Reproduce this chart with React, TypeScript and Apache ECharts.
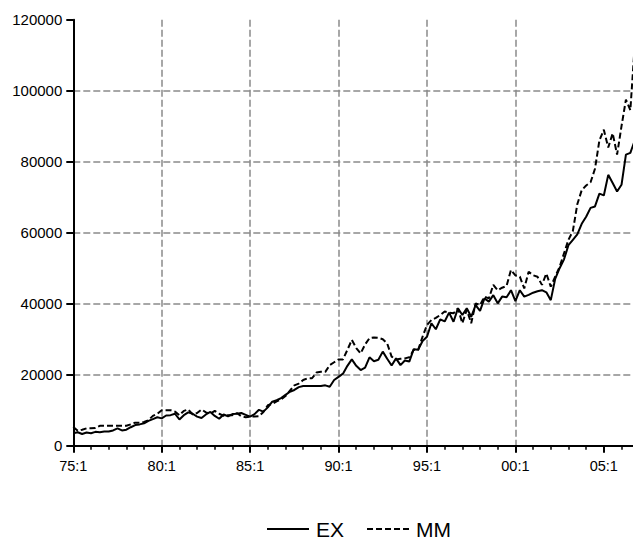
import React, { useEffect, useRef } from 'react';
import * as echarts from 'echarts';

// Quarterly observations, 1975:1 onward (index 0 = 75:1)
const periodLabels = ['75:1', '80:1', '85:1', '90:1', '95:1', '00:1', '05:1'];

const exValues = [
  3500, 3800, 3300, 3700,
  3500, 3900, 3800, 4000,
  4000, 4300, 4900, 4300,
  4500, 5200, 5800, 6000,
  6300, 7000, 7500, 8000,
  7700, 8500, 8600, 9000,
  7400, 8600, 9400, 9000,
  8200, 7800, 8800, 9500,
  8400, 7600, 8800, 8300,
  8900, 9000, 9200, 8700,
  8200, 8900, 10100, 9600,
  10800, 12400, 12800, 13400,
  14300, 15200, 15700, 16500,
  16800, 16800, 16800, 16800,
  16800, 17000, 16600, 18500,
  19400, 20300, 22500, 24300,
  22500, 21300, 22000, 24900,
  23800, 24200, 26500, 24500,
  22600, 24600, 22700, 24000,
  23700, 27200, 27000, 29500,
  30700, 34500, 32800, 35600,
  35000, 37500, 34900, 38700,
  36800, 38700, 36300, 39600,
  38000, 41500, 40600, 42400,
  40100, 42000, 41800, 43800,
  40700, 43800, 42000, 42500,
  43100, 43500, 43800, 43200,
  41000, 47000, 50000, 52500,
  56500, 58000, 59500, 62500,
  64500, 67000, 67400, 71000,
  70500, 76300, 74000, 71600,
  73500, 82000, 82500, 86000,
];

const mmValues = [
  5300, 4200, 4500, 4900,
  4900, 5000, 5600, 5600,
  5600, 5600, 5600, 5600,
  5600, 6000, 6500, 6500,
  6700, 7200, 8400, 9000,
  10000, 10000, 10000, 9600,
  8600, 9800, 10200, 8800,
  9200, 10200, 9400, 9000,
  9800, 9000, 8400, 8600,
  8600, 9200, 8300, 8000,
  8200, 8200, 8300, 9500,
  11400, 11800, 12500, 13000,
  14000, 15500, 17000, 17500,
  18500, 19000, 19000, 20600,
  20800, 20800, 22700, 23500,
  24300, 24300, 27000, 29800,
  27500, 26000, 28500, 30300,
  30500, 30400, 30000, 28800,
  25100, 24300, 24500, 24600,
  24900, 27000, 27000, 30700,
  34000, 35400, 36000, 36800,
  37800, 37500, 37300, 38700,
  34500, 38300, 34500, 40100,
  39600, 42000, 41500, 45300,
  43800, 44500, 45000, 49500,
  48000, 47600, 44300, 49000,
  48000, 47600, 45300, 48500,
  44800, 47600, 50400, 54200,
  58000, 60500, 68000, 72000,
  73300, 74200, 78000, 86000,
  89000, 84000, 88000, 82000,
  90000, 97500, 94500, 113000,
];

const FONT = '"Liberation Sans", Arial, Helvetica, sans-serif';

export default function App() {
  const ref = useRef<HTMLDivElement>(null);

  useEffect(() => {
    if (!ref.current) return;
    const chart = echarts.init(ref.current, null, { renderer: 'svg' });

    const majorTicks = periodLabels.map((_, k) => k * 20);
    const yearTicks: number[] = [];
    for (let v = 0; v <= 124; v += 4) yearTicks.push(v);

    const gridLine = { color: '#8a8a8a', width: 1.5, type: [7, 3] as number[] };

    chart.setOption({
      animation: false,
      textStyle: { fontFamily: FONT },
      grid: { left: 73.3, right: 0, top: 19.7, bottom: 93.3, containLabel: false },
      legend: {
        data: ['EX', 'MM'],
        left: 261,
        top: 513,
        itemWidth: 42,
        itemHeight: 22,
        itemGap: 22,
        itemStyle: { opacity: 0, borderWidth: 0 },
        textStyle: { fontSize: 21, lineHeight: 22, color: '#000', fontFamily: FONT, padding: [0, 0, 0, 2] },
      },
      xAxis: [
        {
          type: 'value',
          min: 0,
          max: 126.6,
          interval: 20,
          position: 'bottom',
          axisLine: { show: true, onZero: false, lineStyle: { color: '#000', width: 2 } },
          axisTick: { show: true, customValues: majorTicks, length: 7, lineStyle: { color: '#000', width: 2 } },
          axisLabel: {
            customValues: majorTicks,
            formatter: (v: number) => periodLabels[Math.round(v / 20)] ?? '',
            color: '#000',
            fontSize: 14.5,
            margin: 13,
            fontFamily: FONT,
          },
          splitLine: { show: true, showMinLine: false, showMaxLine: false, lineStyle: gridLine },
        },
        {
          type: 'value',
          min: 0,
          max: 126.6,
          interval: 4,
          position: 'bottom',
          axisLine: { show: false, onZero: false },
          axisTick: { show: true, customValues: yearTicks, length: 4, lineStyle: { color: '#000', width: 1.5 } },
          axisLabel: { show: false },
          splitLine: { show: false },
        },
      ],
      yAxis: {
        type: 'value',
        min: 0,
        max: 120000,
        interval: 20000,
        axisLine: { show: true, lineStyle: { color: '#000', width: 2 } },
        axisTick: { show: true, length: 7, lineStyle: { color: '#000', width: 2 } },
        axisLabel: {
          color: '#000',
          fontSize: 15,
          margin: 11,
          fontFamily: FONT,
          formatter: (v: number) => String(v),
        },
        splitLine: { show: true, showMinLine: false, showMaxLine: false, lineStyle: gridLine },
      },
      series: [
        {
          name: 'EX',
          type: 'line',
          xAxisIndex: 0,
          data: exValues.map((v, i) => [i, v]),
          symbol: 'none',
          showSymbol: false,
          clip: true,
          lineStyle: { color: '#000', width: 2 },
          itemStyle: { color: '#000' },
        },
        {
          name: 'MM',
          type: 'line',
          xAxisIndex: 0,
          data: mmValues.map((v, i) => [i, v]),
          symbol: 'none',
          showSymbol: false,
          clip: true,
          lineStyle: { color: '#000', width: 2, type: [6, 3] },
          itemStyle: { color: '#000' },
        },
      ],
    });

    return () => chart.dispose();
  }, []);

  return (
    <div
      ref={ref}
      style={{ position: 'fixed', left: 0, top: 0, width: 633, height: 539, background: '#fff' }}
    />
  );
}
